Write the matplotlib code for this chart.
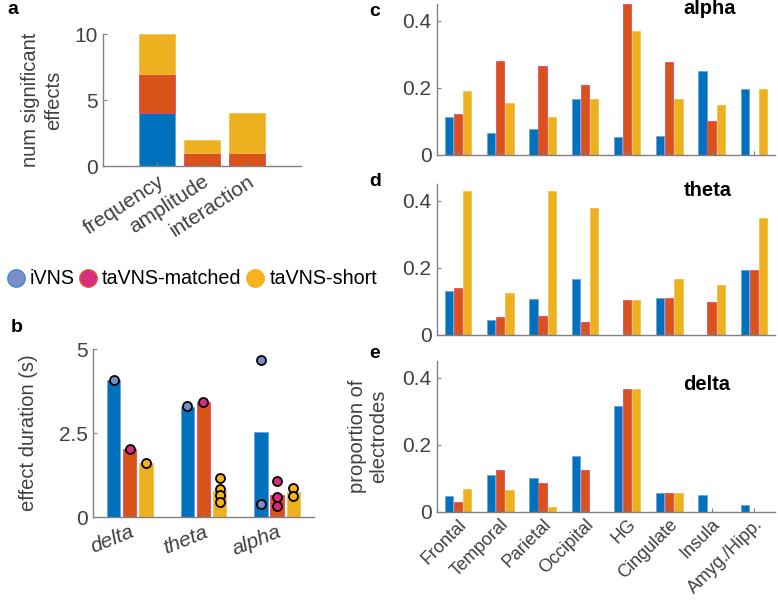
import matplotlib
matplotlib.use("Agg")
import matplotlib.pyplot as plt
from matplotlib.lines import Line2D
import numpy as np

plt.rcParams['font.family'] = ['Liberation Sans', 'DejaVu Sans']

# colours (MATLAB default order)
bar_cols = ['#0072BD', '#D95319', '#EDB120']
bar_edges = ['#6fa3da', '#e8457f', '#f2c04a']
dot_cols = ['#7b8ec8', '#d62d7f', '#f7b21c']
leg_edges = ['#3b8bd2', '#e2522e', '#f3b026']
series = ['iVNS', 'taVNS-matched', 'taVNS-short']

# panel a: number of significant effects (stacked)
effect_types = ['frequency', 'amplitude', 'interaction']
n_ivns = [4, 0, 0]
n_matched = [3, 1, 1]
n_short = [3, 1, 3]

# panel b: effect duration (s)
bands_b = ['delta', 'theta', 'alpha']
dur_ivns = [4.08, 3.27, 2.53]
dur_matched = [2.02, 3.42, 0.67]
dur_short = [1.60, 0.77, 0.74]
pts_ivns = [[4.08], [3.30], [4.66, 0.39]]
pts_matched = [[2.02], [3.42], [1.06, 0.60, 0.34]]
pts_short = [[1.60], [1.15, 0.83, 0.65, 0.45], [0.87, 0.62]]

# panels c-e: proportion of electrodes
regions = ['Frontal', 'Temporal', 'Parietal', 'Occipital', 'HG',
           'Cingulate', 'Insula', 'Amyg./Hipp.']
alpha_ivns = [0.112, 0.065, 0.077, 0.167, 0.054, 0.057, 0.250, 0.196]
alpha_matched = [0.121, 0.280, 0.266, 0.209, 0.450, 0.278, 0.100, 0.0]
alpha_short = [0.192, 0.154, 0.113, 0.167, 0.369, 0.167, 0.150, 0.196]
theta_ivns = [0.132, 0.045, 0.107, 0.167, 0.0, 0.110, 0.0, 0.195]
theta_matched = [0.140, 0.055, 0.056, 0.040, 0.105, 0.110, 0.098, 0.195]
theta_short = [0.430, 0.125, 0.430, 0.377, 0.105, 0.167, 0.150, 0.349]
delta_ivns = [0.046, 0.110, 0.101, 0.165, 0.315, 0.055, 0.049, 0.021]
delta_matched = [0.030, 0.125, 0.085, 0.124, 0.367, 0.055, 0.0, 0.0]
delta_short = [0.068, 0.066, 0.014, 0.0, 0.367, 0.055, 0.0, 0.0]

axis_col = '#808080'
text_col = '#404040'


def style_axes(ax, fs):
    for s in ['top', 'right']:
        ax.spines[s].set_visible(False)
    for s in ['left', 'bottom']:
        ax.spines[s].set_color(axis_col)
        ax.spines[s].set_linewidth(1.0)
    ax.tick_params(direction='in', length=3, width=0.8, color=axis_col,
                   labelcolor=text_col, labelsize=fs, pad=4)


fig = plt.figure(figsize=(7.78, 6.0), dpi=100)

# ---- panel a
ax_a = fig.add_axes([0.1324, 0.7233, 0.2545, 0.22])
xa = np.arange(1, len(effect_types) + 1)
bottom = np.zeros(len(xa))
for vals, c, e in zip([n_ivns, n_matched, n_short], bar_cols, bar_edges):
    ax_a.bar(xa, vals, width=0.8, bottom=bottom, color=c, edgecolor=e, linewidth=0.6)
    bottom += np.array(vals)
ax_a.set_xlim(-0.2, 4.2)
ax_a.set_ylim(0, 10)
ax_a.set_yticks([0, 5, 10])
ax_a.set_xticks(xa)
ax_a.set_xticklabels(effect_types, rotation=33, ha='right', rotation_mode='anchor')
style_axes(ax_a, 15)
ax_a.set_ylabel('num significant\neffects', fontsize=14.5, color=text_col, linespacing=1.3)
ax_a.yaxis.set_label_coords(-0.2, 0.5)

# ---- legend
handles = [Line2D([], [], marker='o', linestyle='none', markersize=12.5,
                  markerfacecolor=f, markeredgecolor=e, markeredgewidth=1.0)
           for f, e in zip(dot_cols, leg_edges)]
fig.legend(handles, series, loc='center left', bbox_to_anchor=(-0.014, 0.535),
           ncol=3, frameon=False, fontsize=14.2, handlelength=0.9,
           handletextpad=0.25, columnspacing=0.25)

# ---- panel b
ax_b = fig.add_axes([0.1195, 0.1383, 0.284, 0.28])
xb = np.arange(1, len(bands_b) + 1)
offs = [-0.22, 0.0, 0.22]
for k, (vals, pts) in enumerate(zip([dur_ivns, dur_matched, dur_short],
                                    [pts_ivns, pts_matched, pts_short])):
    ax_b.bar(xb + offs[k], vals, width=0.18, color=bar_cols[k],
             edgecolor=bar_edges[k], linewidth=0.6)
    for i, p in enumerate(pts):
        ax_b.plot([xb[i] + offs[k]] * len(p), p, 'o', markersize=6.5,
                  markerfacecolor=dot_cols[k], markeredgecolor='black',
                  markeredgewidth=1.3, zorder=4)
ax_b.set_xlim(0.5, 3.5)
ax_b.set_ylim(0, 5)
ax_b.set_yticks([0, 2.5, 5])
ax_b.set_yticklabels(['0', '2.5', '5'])
ax_b.set_xticks(xb)
ax_b.set_xticklabels(bands_b, rotation=22, ha='right', rotation_mode='anchor',
                     fontstyle='italic')
style_axes(ax_b, 15)
ax_b.set_ylabel('effect duration (s)', fontsize=14.5, color=text_col)
ax_b.yaxis.set_label_coords(-0.25, 0.5)

# ---- panels c, d, e
xr = np.arange(1, len(regions) + 1)
panel_data = [
    ('alpha', [alpha_ivns, alpha_matched, alpha_short], 0.7417, 0.436),
    ('theta', [theta_ivns, theta_matched, theta_short], 0.4417, 0.43),
    ('delta', [delta_ivns, delta_matched, delta_short], 0.147, 0.38),
]
offs_r = [-0.215, 0.0, 0.215]
for name, sets, bot, ty in panel_data:
    ax = fig.add_axes([0.5617, bot, 0.4344, 0.2517])
    for k, vals in enumerate(sets):
        ax.bar(xr + offs_r[k], vals, width=0.195, color=bar_cols[k],
               edgecolor=bar_edges[k], linewidth=0.6)
    ax.set_xlim(0.5, 8.5)
    ax.set_ylim(0, 0.45)
    ax.set_yticks([0, 0.2, 0.4])
    ax.set_yticklabels(['0', '0.2', '0.4'])
    ax.set_xticks(xr)
    style_axes(ax, 15)
    ax.text(6.33, ty, name, fontsize=14.5, fontweight='bold', ha='left', va='center')
    if name == 'delta':
        ax.set_xticklabels(regions, rotation=45, ha='right', rotation_mode='anchor',
                           fontsize=13)
        ax.tick_params(axis='x', pad=3)
        ax.set_ylabel('proportion of\nelectrodes', fontsize=14.5, color=text_col,
                      linespacing=1.1)
        ax.yaxis.set_label_coords(-0.145, 0.5)
    else:
        ax.set_xticklabels([])

# panel letters
for lbl, x, y in [('a', 13, 10), ('b', 17, 328), ('c', 375, 12),
                  ('d', 375, 182), ('e', 375, 353)]:
    fig.text(x / 778, 1 - y / 600, lbl, fontsize=14, fontweight='bold',
             ha='center', va='center')

fig.savefig('out.png', dpi=100)
